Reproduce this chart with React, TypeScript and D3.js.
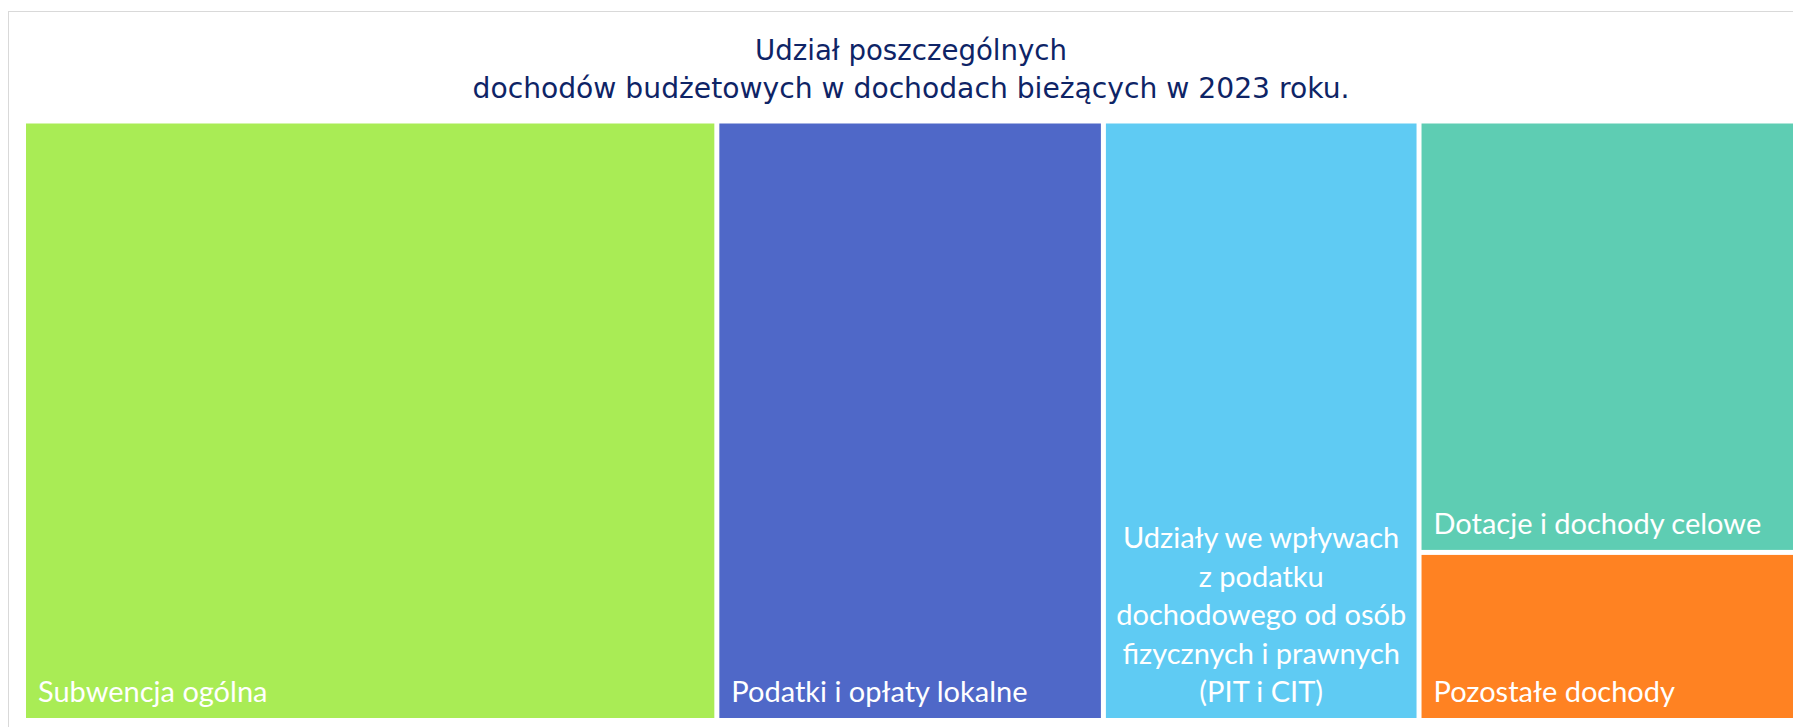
import React from "react";
import * as d3 from "d3";

const categories = [
  "Subwencja ogólna",
  "Podatki i opłaty lokalne",
  "Udziały we wpływach z podatku dochodowego od osób fizycznych i prawnych (PIT i CIT)",
  "Dotacje i dochody celowe",
  "Pozostałe dochody",
];
const shares = [39.1, 21.8, 17.8, 15.4, 6.0];
const labelLines = [
  ["Subwencja ogólna"],
  ["Podatki i opłaty lokalne"],
  ["Udziały we wpływach", "z podatku", "dochodowego od osób", "fizycznych i prawnych", "(PIT i CIT)"],
  ["Dotacje i dochody celowe"],
  ["Pozostałe dochody"],
];
const colors = ["#A9EC55", "#4F68C8", "#5FCBF3", "#5ECDB3", "#FF8222"];
const titleLines = [
  "Udział poszczególnych",
  "dochodów budżetowych w dochodach bieżących w 2023 roku.",
];

const W = 1793;
const H = 727;
const plot = { x: 26, y: 123.5, w: 1770, h: 594.5 };

export default function App() {
  const data = categories.map((name, i) => ({ name, value: shares[i], i }));
  const root = d3
    .hierarchy<any>({ name: "root", children: data })
    .sum((d: any) => (d.children ? 0 : d.value))
    .sort((a, b) => (b.value || 0) - (a.value || 0));
  d3
    .treemap<any>()
    .tile(d3.treemapSquarify.ratio(1))
    .size([plot.w, plot.h])
    .paddingInner(5)(root);
  const leaves = root.leaves() as d3.HierarchyRectangularNode<any>[];

  const labelFont = "Lato, 'Open Sans', sans-serif";
  const labelSize = 29;
  const lineH = 38.4;

  return (
    <svg
      width={W}
      height={H}
      style={{ position: "absolute", left: 0, top: 0, background: "#fff" }}
    >
      <rect x={8.5} y={11.5} width={1820} height={740} fill="#fff" stroke="#D9D9D9" strokeWidth={1} />
      <g fontFamily="'DejaVu Sans', sans-serif" fill="#0E2466" textAnchor="middle" fontSize={28.5}>
        <text x={911} y={59.5} textLength={312} lengthAdjust="spacingAndGlyphs">
          {titleLines[0]}
        </text>
        <text x={911} y={98} textLength={877} lengthAdjust="spacingAndGlyphs">
          {titleLines[1]}
        </text>
      </g>
      <g transform={`translate(${plot.x},${plot.y})`}>
        {leaves.map((n) => {
          const d = n.data;
          const lines = labelLines[d.i];
          const multi = lines.length > 1;
          const bx = multi ? (n.x0 + n.x1) / 2 : n.x0 + 12;
          const by = n.y1 - 16;
          return (
            <g key={d.name}>
              <rect x={n.x0} y={n.y0} width={n.x1 - n.x0} height={n.y1 - n.y0} fill={colors[d.i]} />
              <text
                fontFamily={labelFont}
                fontSize={labelSize}
                fill="#fff"
                textAnchor={multi ? "middle" : "start"}
              >
                {lines.map((l, k) => (
                  <tspan key={k} x={bx} y={by - (lines.length - 1 - k) * lineH}>
                    {l}
                  </tspan>
                ))}
              </text>
            </g>
          );
        })}
      </g>
    </svg>
  );
}
